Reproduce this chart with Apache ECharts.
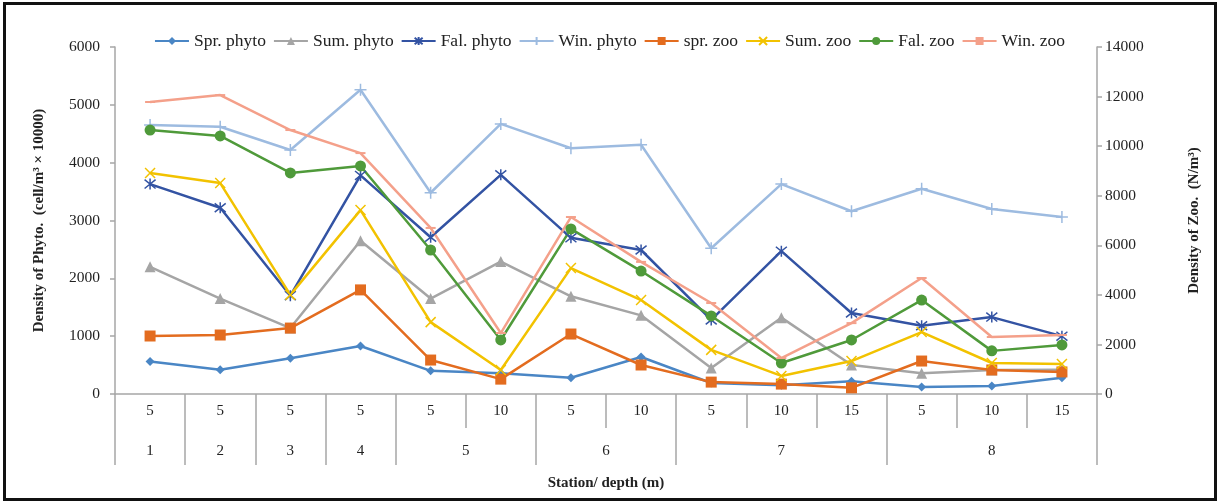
<!DOCTYPE html>
<html>
<head>
<meta charset="utf-8">
<script src="https://cdn.jsdelivr.net/npm/echarts@6/dist/echarts.min.js"></script>
<style>
html,body{margin:0;padding:0;background:#fff;}
#chart{width:1219px;height:503px;}
</style>
</head>
<body>
<div id="chart"></div>
<script>
// Categories: depth (m) per sample, and station of each sample
const depths = ['5','5','5','5','5','10','5','10','5','10','15','5','10','15'];
const stations = ['1','2','3','4','5','5','6','6','7','7','7','8','8','8'];
// Tick labels
const phytoTicks = [0, 1000, 2000, 3000, 4000, 5000, 6000];
const zooTicks = [0, 2000, 4000, 6000, 8000, 10000, 12000, 14000];

// Phytoplankton density (cell/m3 x 10000) - left axis
const sprPhyto = [560, 420, 620, 830, 400, 360, 280, 640, 190, 150, 220, 120, 140, 280];
const sumPhyto = [2200, 1650, 1140, 2650, 1650, 2290, 1690, 1360, 450, 1320, 500, 360, 415, 420];
const falPhyto = [3630, 3220, 1700, 3780, 2710, 3790, 2700, 2490, 1280, 2470, 1400, 1180, 1330, 1000];
const winPhyto = [4650, 4620, 4220, 5260, 3480, 4670, 4250, 4310, 2520, 3630, 3160, 3550, 3200, 3060];

// Zooplankton density (N/m3) - right axis
const sprZoo = [2340, 2380, 2660, 4200, 1370, 600, 2420, 1170, 480, 400, 250, 1330, 970, 890];
const sumZoo = [8920, 8510, 4000, 7420, 2900, 970, 5080, 3790, 1780, 730, 1330, 2500, 1250, 1210];
const falZoo = [10650, 10410, 8920, 9200, 5810, 2180, 6660, 4960, 3150, 1250, 2180, 3790, 1740, 1980];
const winZoo = [11780, 12060, 10650, 9720, 6700, 2460, 7140, 5330, 3670, 1450, 2860, 4680, 2300, 2380];

const FONT = 'Liberation Serif';
const chart = echarts.init(document.getElementById('chart'));

const PLUS = 'path://M0,-1L0,1M-1,0L1,0';
const XMARK = 'path://M-1,-1L1,1M-1,1L1,-1';
const STAR = 'path://M-1,-1L1,1M-1,1L1,-1M0,-1.25L0,1.25';

function mk(name, data, color, symbol, size, yIdx, strokeMarker) {
  return {
    name: name, type: 'line', data: data, yAxisIndex: yIdx,
    symbol: symbol, symbolSize: size,
    showAllSymbol: true,
    lineStyle: {color: color, width: 2.5},
    itemStyle: strokeMarker ? {color: color, borderColor: color, borderWidth: 1.5} : {color: color, borderWidth: 0},
    emphasis: {disabled: true},
    animation: false
  };
}

// station label placement: stations spanning 2 categories are centered on their boundary
const stationLabelMap = {0:'1', 1:'2', 2:'3', 3:'4', 4:'5s', 6:'6s', 9:'7', 12:'8'};
const stationTickIdx = [0, 1, 2, 3, 4, 6, 8, 11];
const plain = function (v) { return String(v); };

const option = {
  backgroundColor: '#fff',
  animation: false,
  textStyle: {fontFamily: FONT},
  graphic: [{
    type: 'rect', silent: true,
    shape: {x: 4.5, y: 3.5, width: 1211, height: 496},
    style: {fill: 'none', stroke: '#111', lineWidth: 3}
  }],
  legend: {
    top: 27, left: 'center',
    itemWidth: 34, itemHeight: 10, itemGap: 7,
    textStyle: {fontFamily: FONT, fontSize: 17.5, color: '#222'},
    data: ['Spr. phyto', 'Sum. phyto', 'Fal. phyto', 'Win. phyto', 'spr. zoo', 'Sum. zoo', 'Fal. zoo', 'Win. zoo']
  },
  grid: {left: 115, right: 122, top: 47, bottom: 109},
  xAxis: [{
    type: 'category', data: depths, boundaryGap: true, position: 'bottom',
    axisLine: {show: true, lineStyle: {color: '#a6a6a6', width: 1.5}},
    axisTick: {show: true, interval: 0, length: 34, lineStyle: {color: '#a6a6a6', width: 1.5}},
    axisLabel: {interval: 0, margin: 10, fontFamily: FONT, fontSize: 15, color: '#222'},
    name: 'Station/ depth (m)', nameLocation: 'middle', nameGap: 82,
    nameTextStyle: {fontFamily: FONT, fontSize: 15, fontWeight: 'bold', color: '#222'}
  }, {
    type: 'category', data: stations, boundaryGap: true, position: 'bottom',
    axisLine: {show: false},
    axisTick: {show: true, length: 71, lineStyle: {color: '#a6a6a6', width: 1.5},
      interval: function (idx) { return stationTickIdx.indexOf(idx) >= 0; }},
    axisLabel: {
      interval: 0, margin: 50, fontFamily: FONT, fontSize: 15, color: '#222',
      formatter: function (v, idx) {
        const s = stationLabelMap[idx];
        if (!s) return '';
        if (s.endsWith('s')) return '{sh|' + s.slice(0, -1) + '}';
        return s;
      },
      rich: {sh: {fontFamily: FONT, fontSize: 15, color: '#222', padding: [0, 0, 0, 70]}}
    }
  }],
  yAxis: [{
    type: 'value', min: phytoTicks[0], max: phytoTicks[phytoTicks.length - 1], interval: 1000,
    position: 'left',
    axisLine: {show: true, lineStyle: {color: '#a6a6a6', width: 1.5}},
    axisTick: {show: true, length: 5, lineStyle: {color: '#a6a6a6', width: 1.5}},
    splitLine: {show: false},
    axisLabel: {margin: 15, fontFamily: FONT, fontSize: 15.5, color: '#222', formatter: plain},
    name: 'Density of Phyto.  (cell/m³ × 10000)', nameLocation: 'middle', nameGap: 68, nameRotate: 90,
    nameTextStyle: {fontFamily: FONT, fontSize: 15, fontWeight: 'bold', color: '#222'}
  }, {
    type: 'value', min: zooTicks[0], max: zooTicks[zooTicks.length - 1], interval: 2000,
    position: 'right',
    axisLine: {show: true, lineStyle: {color: '#a6a6a6', width: 1.5}},
    axisTick: {show: true, length: 5, lineStyle: {color: '#a6a6a6', width: 1.5}},
    splitLine: {show: false},
    axisLabel: {margin: 8, fontFamily: FONT, fontSize: 15.5, color: '#222', formatter: plain},
    name: 'Density of Zoo.  (N/m³)', nameLocation: 'middle', nameGap: 90, nameRotate: 90,
    nameTextStyle: {fontFamily: FONT, fontSize: 15, fontWeight: 'bold', color: '#222'}
  }],
  series: [
    mk('Spr. phyto', sprPhyto, '#4a86c5', 'diamond', 9, 0, false),
    mk('Sum. phyto', sumPhyto, '#a5a5a5', 'triangle', 11, 0, false),
    mk('Fal. phyto', falPhyto, '#3353a3', STAR, 11, 0, true),
    mk('Win. phyto', winPhyto, '#9dbbe0', PLUS, 12, 0, true),
    mk('spr. zoo', sprZoo, '#e36c1f', 'rect', 11, 1, false),
    mk('Sum. zoo', sumZoo, '#f2c200', XMARK, 10, 1, true),
    mk('Fal. zoo', falZoo, '#4f9a3a', 'circle', 11, 1, false),
    mk('Win. zoo', winZoo, '#f4a08a', 'rect', [10, 2], 1, false)
  ]
};
chart.setOption(option);
</script>
</body>
</html>
